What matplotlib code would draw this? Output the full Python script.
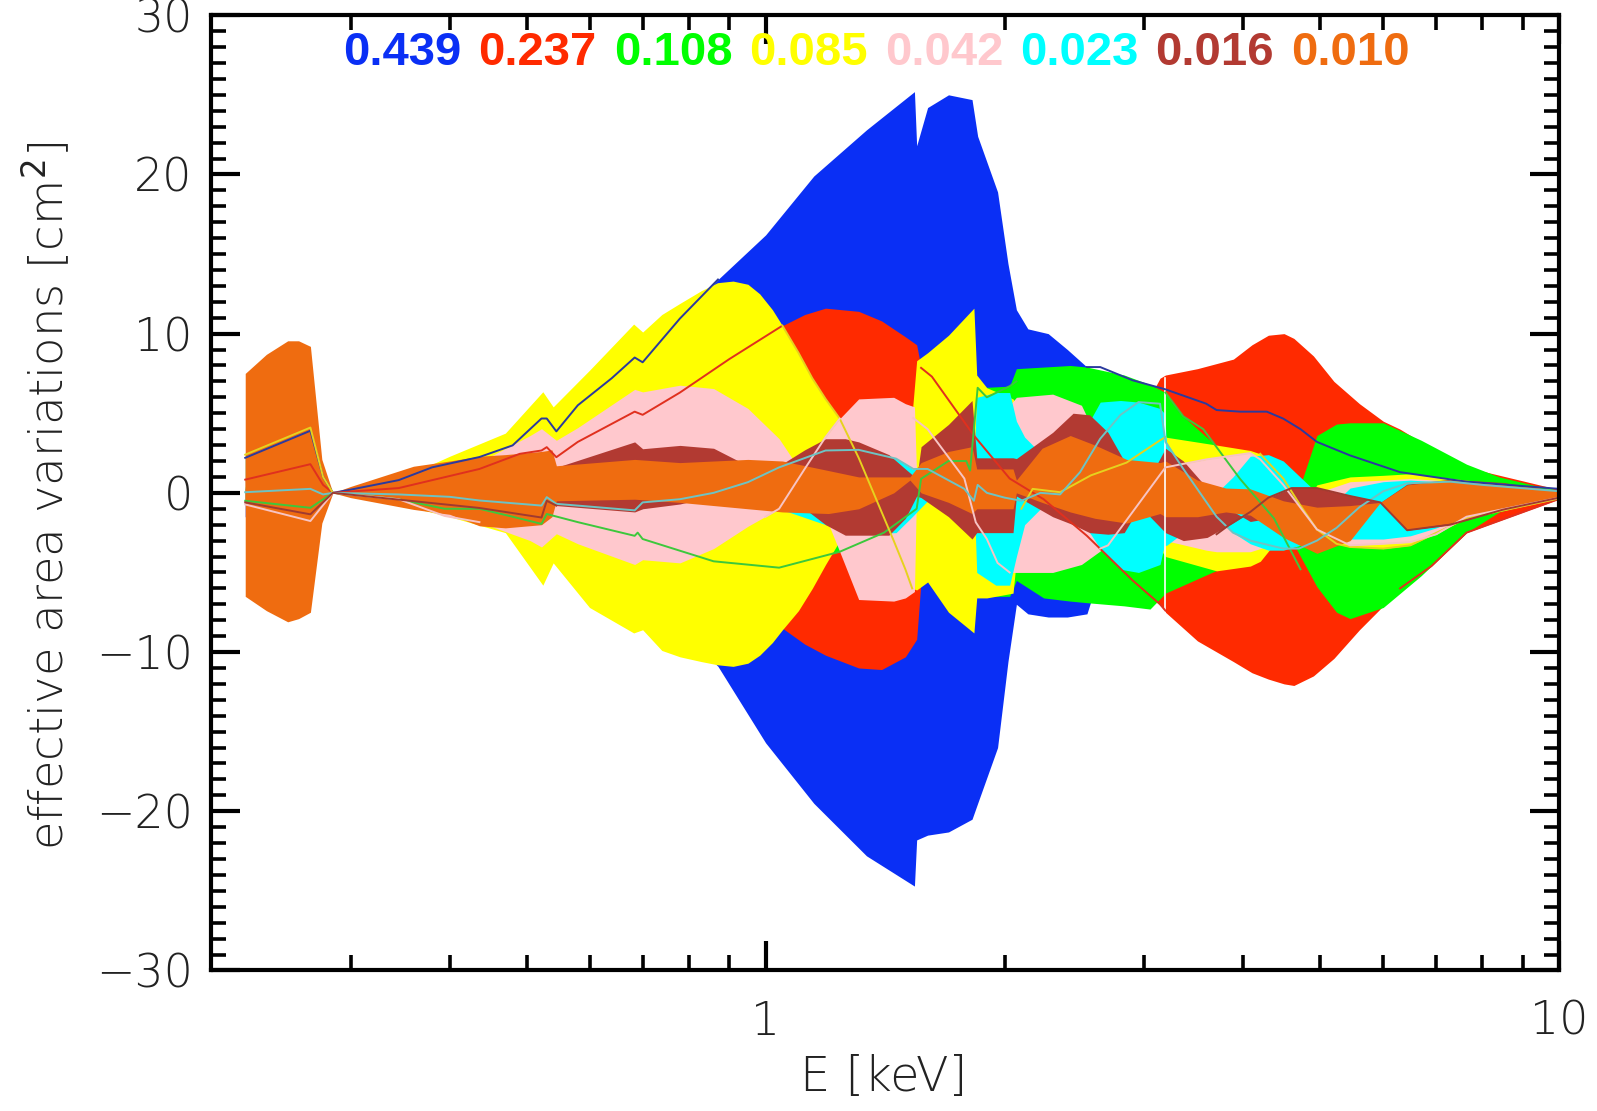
import numpy as np
import matplotlib
matplotlib.use("Agg")
import matplotlib.pyplot as plt
import matplotlib.ticker as mticker

nan = np.nan

# ---------------- data: band edges (energy keV, edge P, edge Q) ----------------
E_blue = [0.221, 0.267, 0.277, 0.285, 0.30, 0.345, 0.38, 0.436, 0.48, 0.522, 0.53, 0.545, 0.58, 0.64, 0.684,
          0.70, 0.78, 0.871, 1.0, 1.15, 1.34, 1.54, 1.55, 1.6, 1.7, 1.82, 1.85, 1.96, 2.02, 2.07, 2.14, 2.27,
          2.4, 2.54, 2.6, 2.9, 3.19, 3.59, 3.96, 4.28, 4.72, 5.2, 6.3, 7.64, 10.0]
blue_p = [2.2, 3.9, 1.0, 0.0, 0.2, 0.8, 1.6, 2.25, 2.98, 4.67, 4.67, 3.86, 5.5, 7.2, 8.5, 8.2, 10.95, 13.4, 16.2,
          19.9, 22.8, 25.2, 21.8, 24.2, 25.0, 24.7, 22.4, 18.9, 14.4, 11.5, 10.3, 10.0, 9.0, 7.9, 7.6, 7.07, 6.5,
          5.6, 5.1, 5.1, 4.0, 2.8, 1.3, 0.7, 0.25]
blue_q = [-1.5, -2.5, -0.8, 0.0, -0.2, -0.6, -1.2, -1.8, -2.4, -3.5, -3.5, -3.0, -4.2, -5.6, -6.6, -6.4, -8.5,
          -10.9, -15.7, -19.5, -22.8, -24.7, -21.8, -21.5, -21.3, -20.5, -19.5, -16.0, -10.6, -7.0, -7.6, -7.8,
          -7.8, -7.6, -6.0, -5.5, -5.0, -4.5, -4.0, -3.5, -3.0, -2.5, -1.5, -0.7, -0.2]

E_red = [0.221, 0.267, 0.277, 0.285, 0.436, 0.58, 0.684, 0.78, 0.9, 1.05, 1.12, 1.19, 1.31, 1.4, 1.5, 1.55, 1.57,
         1.83, 2.03, 2.24, 2.54, 2.9, 3.14, 3.19, 3.5, 3.885, 4.1, 4.3, 4.5, 4.63, 4.9, 5.2, 5.6, 6.0, 6.3, 6.9,
         7.64, 10.0]
red_p = [0.83, 1.8, 0.5, 0.0, 1.5, 3.2, 5.1, 6.3, 8.4, 10.5, 11.2, 11.6, 11.4, 10.8, 9.8, 9.3, 7.85, 3.6, 0.9,
         -0.4, -2.7, -5.5, -7.0, -7.5, -9.3, -10.6, -11.3, -11.7, -12.0, -12.1, -11.5, -10.4, -8.6, -7.1, -6.0,
         -4.6, -2.5, -0.38]
red_q = [-0.5, -1.0, -0.3, 0.0, -1.0, -2.0, -3.0, -4.5, -6.5, -8.5, -9.5, -10.2, -11.0, -11.1, -10.3, -9.2, -5.5,
         -4.0, -3.0, -1.0, 1.0, 4.0, 7.2, 7.4, 7.8, 8.4, 9.3, 9.9, 10.0, 9.7, 8.6, 7.0, 5.6, 4.5, 4.0, 2.8, 1.6,
         0.2]

E_green = [0.221, 0.267, 0.285, 0.345, 0.436, 0.53, 0.684, 0.86, 1.04, 1.24, 1.41, 1.55, 1.57, 1.70, 1.81, 1.85,
           2.03, 2.07, 2.24, 2.42, 2.54, 2.83, 3.05, 3.19, 3.36, 3.65, 4.08, 4.49, 4.72, 4.95, 5.24, 5.45, 6.0,
           6.7, 7.64, 8.4, 9.3, 10.0]
green_p = [-0.5, -0.94, 0.0, -0.4, -1.0, -1.33, -2.7, -4.3, -4.7, -3.7, -2.5, -1.0, 0.88, 2.0, 1.4, 6.6, 6.7, 7.8,
           7.9, 8.0, 7.9, 7.4, 6.8, 6.3, 4.8, 3.2, 0.6, -2.0, -4.0, -5.9, -7.5, -7.9, -7.2, -5.2, -2.5, -1.2,
           -0.6, -0.4]
green_q = [0.4, 0.8, 0.0, 0.4, 1.0, 1.3, 2.7, 4.2, 4.6, 4.7, 3.0, 0.0, -2.0, -5.0, -6.3, -6.5, -6.5, -5.5, -6.6,
           -6.8, -6.9, -7.1, -7.3, -6.3, -5.8, -5.0, -4.0, -1.5, 0.5, 3.6, 4.32, 4.4, 4.4, 3.3, 1.8, 1.0, 0.47,
           0.15]

E_yellow = [0.221, 0.267, 0.277, 0.285, 0.35, 0.40, 0.47, 0.524, 0.54, 0.60, 0.682, 0.70, 0.74, 0.78, 0.83, 0.87,
            0.91, 0.95, 0.983, 1.02, 1.05, 1.1, 1.145, 1.19, 1.24, 1.31, 1.4, 1.45, 1.5, 1.53, 1.55, 1.6, 1.70,
            1.83, 1.845, 1.9, 2.05, 2.1, 2.17, 2.35, 2.54, 2.9, 3.19, 3.7, 4.08, 4.2, 4.49, 4.72, 4.95, 5.24,
            5.45, 6.0, 6.49, 7.64, 10.0]
yellow_p = [2.4, 4.1, 1.0, 0.0, 1.0, 2.3, 3.75, 6.35, 5.4, 7.7, 10.6, 10.1, 11.2, 11.9, 12.7, 13.2, 13.3, 13.1,
            12.5, 11.5, 10.5, 8.8, 7.2, 5.9, 4.66, 2.2, -1.2, -3.0, -4.8, -6.0, -6.1, -5.6, -7.5, -8.8, -6.6,
            -6.6, -6.3, -1.0, 0.0, 0.0, 1.1, 2.0, 3.5, 3.0, 2.66, 2.45, 0.9, -0.8, -2.3, -3.2, -3.4, -3.5, -3.3,
            -1.6, -0.35]
yellow_q = [-0.5, -1.0, -0.3, 0.0, -0.8, -1.5, -2.5, -5.8, -4.4, -7.2, -8.8, -8.6, -9.9, -10.3, -10.6, -10.8,
            -10.9, -10.7, -10.2, -9.4, -8.6, -7.4, -6.0, -4.5, -3.0, -0.5, 2.0, 3.2, 4.3, 5.0, 8.3, 8.8, 9.9, 11.6,
            7.4, 6.6, 5.9, 5.0, 4.2, 3.2, 2.0, -1.0, -4.0, -4.9, -4.6, -4.3, -2.5, -1.0, 0.5, 0.8, 1.0, 1.1, 1.2,
            0.8, 0.15]

E_pink = [0.221, 0.267, 0.285, 0.345, 0.394, 0.436, 0.505, 0.522, 0.545, 0.58, 0.684, 0.70, 0.78, 0.86, 0.95,
          1.04, 1.12, 1.19, 1.24, 1.31, 1.45, 1.50, 1.54, 1.55, 1.6, 1.7, 1.78, 1.84, 1.9, 1.96, 2.03, 2.07, 2.3,
          2.5, 2.7, 2.9, 3.19, 3.59, 3.7, 4.08, 4.2, 4.3, 4.49, 4.6, 4.95, 5.45, 6.0, 6.49, 7.0, 7.64, 10.0]
pink_p = [-0.73, -1.77, 0.0, -0.4, -1.45, -1.84, -3.0, -3.4, -2.57, -3.2, -4.5, -4.2, -4.4, -3.5, -2.1, -1.0, 1.5,
          3.5, 4.66, 5.9, 6.0, 5.6, 5.4, 1.0, 1.5, 1.5, 1.0, 1.0, -3.0, -4.4, -5.0, -5.0, -5.0, -4.5, -3.3, -1.2,
          1.6, 2.1, 2.2, 2.5, 2.1, 1.6, 0.5, -0.2, -2.3, -3.3, -3.2, -3.1, -2.6, -1.5, -0.3]
pink_q = [0.7, 1.7, 0.0, 0.5, 1.2, 1.93, 3.6, 4.03, 3.3, 4.1, 6.5, 6.34, 6.76, 6.55, 5.3, 3.4, 1.0, -1.5, -3.7,
          -6.7, -6.8, -6.6, -6.2, 0.5, 0.3, 0.0, 0.0, -0.5, 3.0, 4.5, 5.5, 6.0, 6.2, 5.5, 2.0, -1.5, -3.0, -3.6,
          -3.7, -3.7, -3.5, -3.3, -2.5, -1.5, 0.0, 0.7, 0.8, 0.9, 0.8, 0.5, 0.1]

E_cyan = [0.221, 0.267, 0.285, 0.436, 0.545, 0.684, 0.86, 1.04, 1.19, 1.31, 1.46, 1.53, 1.6, 1.78, 1.83, 1.845,
          1.95, 2.03, 2.07, 2.12, 2.22, 2.35, 2.49, 2.56, 2.64, 2.8, 2.95, 3.14, 3.18, 3.2, 3.36, 3.7, 3.88, 4.08,
          4.3, 4.49, 4.95, 5.24, 5.45, 6.0, 6.49, 7.0, 8.0, 10.0]
cyan_p = [0.04, 0.25, 0.0, -0.48, -0.69, -1.1, 0.0, 1.6, 2.66, 2.7, 2.15, 1.5, 1.5, 0.25, 0.0, -5.0, -5.8, -5.8,
          -4.0, -2.0, -1.0, 0.0, 3.0, 4.5, 5.7, 5.8, 5.7, 5.3, 5.0, 3.2, 1.5, -1.5, -2.5, -3.2, -3.6, -3.6, -3.0,
          -0.5, 0.3, 0.7, 0.8, 0.7, 0.4, 0.1]
cyan_q = [-0.04, -0.2, 0.0, 0.3, 0.4, 0.8, 0.0, -1.0, -2.0, -2.6, -2.5, -1.5, -0.5, 2.0, 2.2, 6.0, 6.3, 6.3, 4.5,
          3.5, 2.5, 1.0, -1.5, -2.5, -3.5, -4.8, -5.0, -4.5, -3.3, -3.3, -2.5, 0.0, 1.0, 2.3, 2.4, 2.0, 0.0, -2.6,
          -2.9, -2.9, -2.7, -2.2, -1.0, -0.1]

E_brown = [0.221, 0.267, 0.285, 0.436, 0.522, 0.53, 0.545, 0.684, 0.70, 0.78, 0.86, 0.95, 1.04, 1.12, 1.19, 1.26,
           1.31, 1.43, 1.5, 1.55, 1.57, 1.7, 1.82, 1.845, 2.05, 2.07, 2.3, 2.44, 2.56, 2.7, 2.83, 2.95, 3.05, 3.19,
           3.36, 3.6, 3.83, 4.08, 4.3, 4.6, 4.95, 5.45, 5.95, 6.43, 7.29, 8.5, 10.0]
brown_p = [-0.6, -1.35, 0.0, -0.95, -1.55, -0.5, -0.8, -1.2, -1.0, -0.7, -0.2, 0.6, 1.7, 2.7, 3.4, 3.4, 3.2, 2.4,
           1.5, 0.9, 2.9, 4.3, 5.8, 2.2, 2.2, 2.15, 3.8, 5.0, 4.9, 3.8, 2.0, 0.0, -1.5, -2.5, -3.0, -2.8, -2.05,
           -1.2, -0.3, 0.3, 0.3, -0.2, -0.6, -2.35, -2.0, -1.05, -0.3]
brown_q = [0.3, 0.6, 0.0, 0.8, 1.2, 1.2, 1.6, 3.2, 2.77, 2.98, 2.8, 1.7, 0.5, -1.0, -2.0, -2.66, -2.66, -2.66,
           -1.6, -0.2, -0.3, -1.5, -2.9, -2.5, -2.5, -0.2, -1.5, -2.0, -2.5, -2.6, -2.5, -1.0, 1.0, 2.8, 2.0, 0.3,
           -1.0, -1.8, -1.6, -1.0, -1.1, -1.2, -0.6, 0.55, 0.85, 0.65, 0.1]

E_orange = [0.221, 0.235, 0.25, 0.258, 0.267, 0.276, 0.285, 0.30, 0.36, 0.40, 0.436, 0.47, 0.522, 0.538, 0.545,
            0.684, 0.78, 0.95, 1.05, 1.2, 1.31, 1.45, 1.52, 1.57, 1.7, 1.82, 1.845, 2.05, 2.07, 2.23, 2.42, 2.6,
            2.85, 3.14, 3.19, 3.5, 3.8, 4.08, 4.49, 4.95, 5.45, 5.95, 6.43, 7.29, 8.5, 10.0]
orange_p = [7.5, 8.7, 9.55, 9.55, 9.2, 2.1, 0.0, 0.4, 1.67, 2.0, 2.3, 2.4, 2.6, 2.7, 1.7, 2.1, 1.9, 2.1, 2.0, 1.4,
            1.0, 1.0, 1.0, 1.9, 2.6, 2.9, 1.5, 1.5, 0.8, 2.8, 3.6, 3.0, 2.1, 1.9, 2.0, 0.8, 0.3, 0.25, -0.5, -0.9,
            -0.8, -0.6, 0.5, 0.8, 0.6, 0.1]
orange_q = [-6.5, -7.4, -8.1, -7.9, -7.5, -1.9, 0.0, -0.3, -1.04, -1.35, -2.07, -2.2, -2.0, -1.5, -0.5, -0.4,
            -0.6, -1.0, -1.2, -1.3, -1.0, 0.0, 0.8, 0.0, -0.6, -1.3, -1.0, -1.0, 0.0, -0.6, -1.2, -1.6, -1.9, -1.3,
            -1.5, -1.5, -1.2, -1.4, -2.8, -3.8, -3.0, -0.6, -2.3, -1.9, -1.0, -0.3]

# ---------------- data: thin component lines ----------------
blue_line_E = [0.221, 0.267, 0.277, 0.285, 0.30, 0.345, 0.38, 0.436, 0.48, 0.522, 0.53, 0.545, 0.58, 0.64, 0.684,
               0.70, 0.78, 0.871, 1.5, 2.54, 2.64, 2.9, 3.19, 3.59, 3.7, 3.96, 4.28, 4.49, 4.72, 4.95, 5.45, 6.3,
               7.64, 10.0]
blue_line_v = [2.2, 3.9, 1.0, 0.0, 0.2, 0.8, 1.6, 2.25, 2.98, 4.67, 4.67, 3.86, 5.5, 7.2, 8.5, 8.2, 10.95, 13.4,
               nan, 7.9, 7.9, 7.07, 6.5, 5.6, 5.2, 5.1, 5.1, 4.66, 4.0, 3.2, 2.35, 1.3, 0.7, 0.25]

red_line_E = [0.221, 0.267, 0.277, 0.285, 0.345, 0.436, 0.49, 0.522, 0.53, 0.545, 0.58, 0.684, 0.70, 0.78, 0.9,
              1.05, 1.3, 1.57, 1.62, 1.83, 2.03, 2.24, 2.54, 2.9, 3.14, 3.19, 4.5, 6.3, 6.9, 7.64, 10.0]
red_line_v = [0.83, 1.8, 0.5, 0.0, 0.3, 1.5, 2.45, 2.66, 2.87, 2.24, 3.2, 5.1, 4.9, 6.3, 8.4, 10.5, nan, 7.85,
              7.3, 3.6, 0.9, -0.4, -2.7, -5.5, -7.0, -7.4, nan, -6.0, -4.6, -2.5, -0.38]

green_line_E = [0.221, 0.267, 0.285, 0.345, 0.394, 0.436, 0.48, 0.522, 0.53, 0.58, 0.684, 0.69, 0.70, 0.86, 1.04,
                1.24, 1.41, 1.55, 1.57, 1.70, 1.79, 1.81, 1.85, 1.9, 2.03, 2.07, 2.5, 3.19, 3.36, 3.56, 3.96,
                4.37, 4.72]
green_line_v = [-0.5, -0.94, 0.0, -0.4, -1.0, -1.0, -1.5, -1.95, -1.33, -1.84, -2.7, -2.5, -2.9, -4.3, -4.7,
                -3.7, -2.5, -1.0, 0.88, 2.0, 2.0, 1.4, 6.6, 6.0, 6.7, 7.0, nan, 6.3, 4.8, 4.0, 0.88, -1.6, -4.8]

yellow_line_E = [0.221, 0.267, 0.277, 0.285, 0.6, 1.05, 1.1, 1.145, 1.19, 1.24, 1.31, 1.4, 1.45, 1.5, 1.53, 1.8,
                 2.1, 2.17, 2.35, 2.57, 2.85, 3.14, 3.19, 3.7, 4.2, 4.49, 4.72, 4.95, 5.24, 5.45, 6.0, 6.49, 7.64,
                 10.0]
yellow_line_v = [2.4, 4.1, 1.0, 0.0, nan, 10.5, 8.8, 7.2, 5.9, 4.66, 2.2, -1.2, -3.0, -4.8, -6.0, nan, -1.0, 0.25,
                 0.04, 1.1, 1.9, 3.3, 3.5, nan, 2.45, 0.9, -0.8, -2.3, -3.2, -3.4, -3.5, -3.3, -1.6, -0.35]

pink_line_E = [0.221, 0.267, 0.285, 0.345, 0.394, 0.436, 0.7, 1.0, 1.04, 1.12, 1.19, 1.24, 1.4, 1.535, 1.6, 1.78,
               1.84, 1.9, 1.96, 2.03, 2.3, 2.64, 2.7, 2.9, 3.19, 3.59, 4.08, 4.2, 4.49, 4.95, 5.45, 6.0, 6.49, 7.0,
               7.64, 10.0]
pink_line_v = [-0.73, -1.77, 0.0, -0.4, -1.45, -1.84, nan, -1.5, -1.0, 1.5, 3.5, 4.66, nan, 4.7, 4.0, 0.9, -1.85,
               -2.9, -4.4, -5.0, nan, -3.5, -3.3, -1.2, 1.6, 2.1, 2.5, 2.1, 0.5, -2.3, -3.3, -3.2, -3.1, -2.6,
               -1.5, -0.3]

cyan_line_E = [0.221, 0.267, 0.277, 0.285, 0.345, 0.40, 0.436, 0.522, 0.53, 0.545, 0.684, 0.70, 0.78, 0.86, 0.95,
               1.04, 1.19, 1.31, 1.46, 1.535, 1.6, 1.78, 1.83, 1.85, 1.9, 2.0, 2.1, 2.22, 2.35, 2.49, 2.64, 2.8,
               2.95, 3.14, 3.19, 3.36, 3.7, 3.88, 4.08, 4.49, 4.7, 4.95, 5.24, 5.6, 6.0, 6.43, 7.29, 8.0, 10.0]
cyan_line_v = [0.04, 0.25, -0.1, 0.0, -0.1, -0.25, -0.48, -0.8, -0.27, -0.69, -1.1, -0.6, -0.4, 0.0, 0.67, 1.6,
               2.66, 2.7, 2.15, 1.5, 1.5, 0.25, -0.5, 0.5, 0.0, -0.3, -0.5, 0.0, -0.1, 1.3, 3.4, 4.9, 5.7, 5.6,
               3.2, 1.5, -1.5, -2.5, -3.0, -3.5, -3.5, -3.0, -2.2, -0.9, 0.1, 0.6, 0.7, 0.5, 0.1]

brown_line_E = [0.221, 0.267, 0.285, 0.436, 0.522, 0.53, 0.545, 0.6, 3.7, 3.83, 4.08, 4.3, 4.6, 4.95, 5.45, 5.95,
                6.43, 7.29, 8.5, 10.0]
brown_line_v = [-0.6, -1.35, 0.0, -0.95, -1.55, -0.5, -0.8, nan, -2.6, -2.05, -1.2, -0.3, 0.3, 0.3, -0.2, -0.6,
                -2.35, -2.0, -1.05, -0.3]

# thin gap in the bands near 3.19 keV
gap_E = [3.19, 3.19]
gap_v = [-7.5, 7.2]

# eigenvalue fractions shown on top
fractions = ["0.439", "0.237", "0.108", "0.085", "0.042", "0.023", "0.016", "0.010"]

# ---------------- styles ----------------
band_colors = ["#0a2ff5", "#ff2a00", "#00ff00", "#ffff00", "#ffc8cd", "#00ffff", "#b23a32", "#ef6c10"]
line_colors = ["#2b3a9e", "#e0301e", "#3cc83c", "#e6d21e", "#f7c4c4", "#6ec3c3", "#a03a30"]

bands = [(E_blue, blue_p, blue_q), (E_red, red_p, red_q), (E_green, green_p, green_q),
         (E_yellow, yellow_p, yellow_q), (E_pink, pink_p, pink_q), (E_cyan, cyan_p, cyan_q),
         (E_brown, brown_p, brown_q), (E_orange, orange_p, orange_q)]
lines = [(blue_line_E, blue_line_v), (red_line_E, red_line_v), (green_line_E, green_line_v),
         (yellow_line_E, yellow_line_v), (pink_line_E, pink_line_v), (cyan_line_E, cyan_line_v),
         (brown_line_E, brown_line_v)]

thin = dict(family=["DejaVu Sans"], weight="light")

fig = plt.figure(figsize=(15.97, 11.11), dpi=100)
ax = fig.add_axes([0.1320, 0.1265, 0.8444, 0.8598])

for i, (E, p, q) in enumerate(bands):
    ax.fill_between(E, p, q, color=band_colors[i], lw=0, zorder=1 + i)

ax.plot(gap_E, gap_v, color="white", lw=1.2, zorder=9.5)

for i, (E, v) in enumerate(lines):
    ax.plot(E, v, color=line_colors[i], lw=1.4, zorder=10 + i)

ax.set_xscale("log")
ax.set_xlim(0.2, 10)
ax.set_ylim(-30, 30)

ax.xaxis.set_major_locator(mticker.LogLocator(base=10, numticks=10))
ax.xaxis.set_minor_locator(mticker.LogLocator(base=10, subs=np.arange(2, 10), numticks=20))
ax.xaxis.set_major_formatter(mticker.FuncFormatter(lambda v, p: f"{v:g}"))
ax.xaxis.set_minor_formatter(mticker.NullFormatter())
ax.yaxis.set_major_locator(mticker.MultipleLocator(10))
ax.yaxis.set_minor_locator(mticker.MultipleLocator(1))

ax.tick_params(which="both", direction="in", top=True, right=True, colors="black")
ax.tick_params(which="major", length=21, width=3.0)
ax.tick_params(which="minor", length=11, width=2.6)
ax.tick_params(axis="x", which="major", pad=21)
ax.tick_params(axis="y", which="major", pad=13)
for lab in ax.get_xticklabels() + ax.get_yticklabels():
    lab.set_fontsize(33)
    lab.set_family(thin["family"])
    lab.set_fontweight(thin["weight"])
    lab.set_color("#222222")
for sp in ax.spines.values():
    sp.set_linewidth(3.0)
    sp.set_zorder(30)

fig.text(0.553, 0.0306, "E [keV]", ha="center", va="center", fontsize=34.5, color="#222222", **thin)
fig.text(0.0288, 0.5535, "effective area variations [cm$^2$]", ha="center", va="center", rotation=90,
         fontsize=33.5, color="#222222", **thin)

x0, dx = 0.2519, 0.0848
for i, s in enumerate(fractions):
    fig.text(x0 + dx * i, 0.9415, s, ha="center", va="baseline", fontsize=34, fontweight="bold",
             family=["Liberation Sans", "DejaVu Sans"], color=band_colors[i])

fig.savefig("out.png", dpi=100)
